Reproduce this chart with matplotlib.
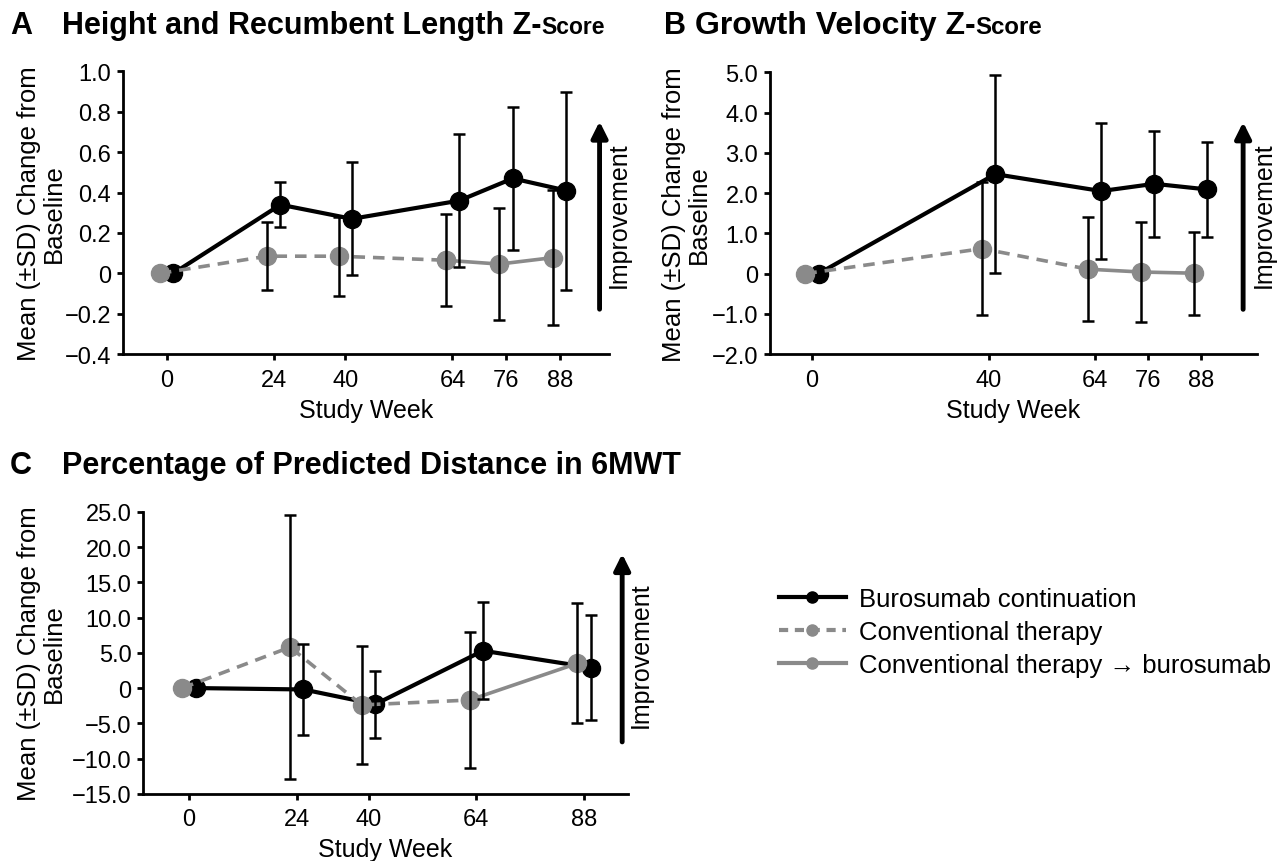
import numpy as np
import matplotlib
matplotlib.use("Agg")
import matplotlib.pyplot as plt
from matplotlib.lines import Line2D
from matplotlib.ticker import FuncFormatter

plt.rcParams['font.family'] = ['Liberation Sans', 'DejaVu Sans']

BLACK = '#000000'
GRAY = '#8a8a8a'

# ---- data ----
# A: height / recumbent length z-score
a_weeks = [0, 24, 40, 64, 76, 88]
a_buro_mean = [0, 0.34, 0.27, 0.36, 0.47, 0.41]
a_buro_sd = [0, 0.11, 0.28, 0.33, 0.355, 0.49]
a_conv_mean = [0, 0.085, 0.085, 0.065, 0.046, 0.078]
a_conv_sd = [0, 0.167, 0.195, 0.228, 0.277, 0.336]

# B: growth velocity z-score
b_weeks = [0, 40, 64, 76, 88]
b_buro_mean = [0, 2.47, 2.05, 2.23, 2.09]
b_buro_sd = [0, 2.46, 1.69, 1.31, 1.17]
b_conv_mean = [0, 0.62, 0.11, 0.04, 0.01]
b_conv_sd = [0, 1.645, 1.29, 1.235, 1.035]

# C: % predicted distance in 6MWT
c_weeks = [0, 24, 40, 64, 88]
c_buro_mean = [0, -0.2, -2.3, 5.3, 2.9]
c_buro_sd = [0, 6.45, 4.75, 6.9, 7.45]
c_conv_mean = [0, 5.8, -2.4, -1.7, 3.5]
c_conv_sd = [0, 18.7, 8.35, 9.6, 8.5]

switch_week = 64  # conventional therapy -> burosumab crossover

labels = ['Burosumab continuation', 'Conventional therapy',
          'Conventional therapy \u2192 burosumab']

fig = plt.figure(figsize=(12.79, 8.62), dpi=100)


def fmt(v, pos):
    if abs(v) < 1e-9:
        return '0'
    s = f'{v:.1f}'
    return s.replace('-', '\u2212')


def panel(rect, weeks, bm, bsd, cm, csd, ylim, yticks, xlim,
          arrow_x, arrow_y, text_xy, ylab_x):
    ax = fig.add_axes(rect)
    w = np.array(weeks, dtype=float)
    xb = w + 1.5
    xc = w - 1.5
    cm = np.array(cm)
    # burosumab continuation
    ax.plot(xb, bm, color=BLACK, lw=3, marker='o', ms=13, zorder=3)
    # conventional therapy (dashed) then crossover (solid)
    pre = w <= switch_week
    post = w >= switch_week
    ax.plot(xc[pre], cm[pre], color=GRAY, lw=2.6, ls=(0, (3.2, 2.2)),
            marker='o', ms=13, zorder=4)
    ax.plot(xc[post], cm[post], color=GRAY, lw=2.6, marker='o', ms=13,
            zorder=4)
    # error bars (skip baseline)
    m = np.array(bsd) > 0
    ax.errorbar(xb[m], np.array(bm)[m], yerr=np.array(bsd)[m], fmt='none',
                ecolor=BLACK, elinewidth=1.8, capsize=4, capthick=1.8, zorder=5)
    m = np.array(csd) > 0
    ax.errorbar(xc[m], cm[m], yerr=np.array(csd)[m], fmt='none',
                ecolor=BLACK, elinewidth=1.8, capsize=4, capthick=1.8, zorder=5)

    ax.set_xlim(*xlim)
    ax.set_ylim(*ylim)
    ax.set_xticks(weeks)
    ax.set_yticks(yticks)
    ax.yaxis.set_major_formatter(FuncFormatter(fmt))
    for s in ['top', 'right']:
        ax.spines[s].set_visible(False)
    for s in ['left', 'bottom']:
        ax.spines[s].set_linewidth(2)
    ax.tick_params(width=2, length=4.5, labelsize=17, pad=4)
    ax.tick_params(axis='x', pad=6)
    ax.set_xlabel('Study Week', fontsize=18, labelpad=5)
    ax.text(ylab_x, 0.5, 'Mean (\u00b1SD) Change from\nBaseline',
            transform=ax.transAxes, rotation=90, ha='center', va='center',
            fontsize=18.5, linespacing=1.05)
    ax.annotate('', xy=(arrow_x, arrow_y[1]), xytext=(arrow_x, arrow_y[0]),
                xycoords='axes fraction', annotation_clip=False,
                arrowprops=dict(arrowstyle='-|>', lw=3.5, color=BLACK,
                                mutation_scale=24, shrinkA=0, shrinkB=0))
    ax.text(text_xy[0], text_xy[1], 'Improvement', transform=ax.transAxes,
            rotation=90, ha='center', va='center', fontsize=18)
    return ax


panel([0.096, 0.588, 0.380, 0.328], a_weeks, a_buro_mean, a_buro_sd,
      a_conv_mean, a_conv_sd, (-0.4, 1.0), np.arange(-0.4, 1.01, 0.2),
      (-9.8, 99), 0.981, (0.159, 0.823), (1.02, 0.495), -0.167)
panel([0.602, 0.588, 0.381, 0.327], b_weeks, b_buro_mean, b_buro_sd,
      b_conv_mean, b_conv_sd, (-2.0, 5.0), np.arange(-2, 5.01, 1.0),
      (-9.5, 100.8), 0.971, (0.159, 0.823), (1.014, 0.495), -0.172)
panel([0.112, 0.078, 0.379, 0.327], c_weeks, c_buro_mean, c_buro_sd,
      c_conv_mean, c_conv_sd, (-15, 25), np.arange(-15, 25.1, 5),
      (-10.2, 97.8), 0.988, (0.184, 0.851), (1.027, 0.496), -0.21)


def title(x_letter, x_text, y, letter, main, small=None, size=22):
    fig.text(x_letter / 1279, y, letter, fontsize=22, weight='bold',
             va='baseline')
    t = fig.text(x_text / 1279, y, main, fontsize=size, weight='bold',
                 va='baseline')
    if small:
        fig.canvas.draw()
        bb = t.get_window_extent()
        fig.text(bb.x1 / fig.bbox.width, y, small, fontsize=size * 0.75,
                 weight='bold', va='baseline')


title(10, 62, 1 - 34 / 862, 'A', 'Height and Recumbent Length Z-', 'Score',
      size=22)
title(664, 695, 1 - 34 / 862, 'B', 'Growth Velocity Z-', 'Score', size=23)
title(10, 62, 1 - 474 / 862, 'C', 'Percentage of Predicted Distance in 6MWT',
      size=22)

handles = [
    Line2D([], [], color=BLACK, lw=3, marker='o', ms=8),
    Line2D([], [], color=GRAY, lw=3, ls=(0, (2.2, 1.6)), marker='o', ms=8),
    Line2D([], [], color=GRAY, lw=3, marker='o', ms=8),
]
fig.legend(handles, labels, loc='upper left', bbox_to_anchor=(0.609, 0.318),
           frameon=False, fontsize=18.5, handlelength=2.6, handletextpad=0.5,
           labelspacing=0.36, borderpad=0, borderaxespad=0)

fig.savefig('out.png', dpi=100)
